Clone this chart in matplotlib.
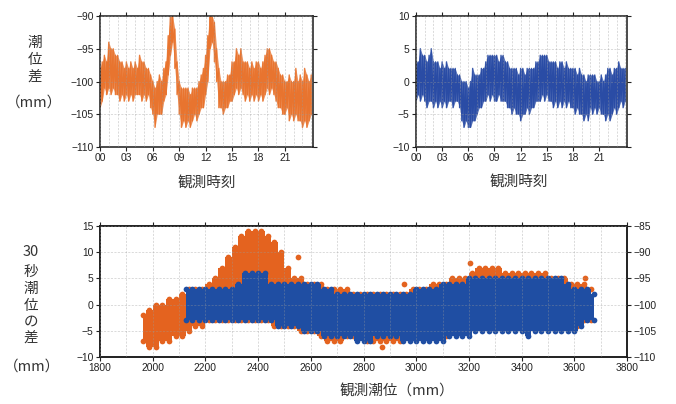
import numpy as np
import matplotlib.pyplot as plt
from matplotlib.ticker import MultipleLocator, FuncFormatter

plt.rcParams['font.family'] = ['Liberation Sans', 'DejaVu Sans']
plt.rcParams['axes.unicode_minus'] = True
JP = ['Noto Sans CJK JP', 'DejaVu Sans']

ORANGE = '#e4631f'
BLUE = '#1f4ea3'

# ---- top panels: 15-minute samples, upper / lower edge of the noisy trace (mm)
hours = np.arange(0, 24.01, 0.25)

tide_hi = [-98, -97, -96, -97, -94, -95, -95, -96, -96, -97, -97, -98,
           -97, -98, -97, -98, -97, -98, -96, -97, -97, -98, -98, -99,
           -100, -101, -100, -99, -100, -98, -97, -93, -90, -90, -92, -97,
           -100, -101, -101, -101, -101, -102, -101, -101, -101, -100, -99, -98,
           -96, -93, -90, -90, -91, -95, -98, -100, -100, -100, -99, -99,
           -97, -97, -95, -96, -95, -97, -97, -97, -98, -97, -98, -97,
           -97, -98, -97, -96, -95, -95, -96, -97, -97, -98, -99, -99,
           -100, -100, -99, -100, -100, -98, -100, -99, -100, -98, -99, -100,
           -99]
tide_lo = [-104, -103, -101, -102, -101, -102, -101, -102, -102, -103, -102, -103,
           -102, -103, -102, -103, -102, -102, -102, -103, -102, -103, -102, -104,
           -105, -107, -105, -105, -105, -103, -102, -99, -96, -94, -98, -102,
           -105, -107, -106, -107, -106, -107, -106, -105, -106, -105, -104, -104,
           -102, -100, -95, -94, -97, -100, -104, -104, -105, -104, -104, -103,
           -103, -102, -101, -102, -101, -102, -103, -102, -103, -102, -103, -102,
           -103, -102, -103, -102, -101, -102, -101, -102, -103, -104, -104, -105,
           -105, -104, -106, -105, -106, -105, -106, -106, -107, -106, -107, -106,
           -105]

diff_hi = [3, 3, 5, 4, 4, 3, 4, 5, 3, 3, 3, 2, 3, 2, 3, 2, 2, 2, 2, 1,
           1, 0, 0, 0, -1, 0, 2, 1, 1, 1, 2, 2, 3, 4, 4, 4, 4, 4, 3, 4,
           4, 3, 3, 2, 2, 2, 2, 1, 2, 2, 1, 2, 2, 2, 2, 3, 3, 4, 4, 4,
           4, 3, 3, 3, 3, 2, 3, 3, 2, 3, 2, 2, 2, 2, 1, 2, 1, 1, 0, 1,
           1, 1, 1, 0, 0, 1, 0, 1, 2, 2, 1, 2, 2, 3, 2, 2, 2]
diff_lo = [-3, -2, -3, -2, -3, -4, -3, -3, -4, -3, -4, -3, -4, -3, -4, -3,
           -3, -4, -3, -3, -4, -6, -7, -6, -7, -7, -6, -6, -5, -4, -4, -3,
           -3, -2, -3, -2, -3, -3, -2, -3, -3, -3, -4, -4, -5, -4, -5, -5,
           -6, -5, -5, -4, -5, -4, -4, -3, -3, -3, -2, -3, -2, -3, -3, -4,
           -3, -4, -3, -4, -3, -4, -3, -4, -4, -5, -4, -5, -5, -6, -5, -6,
           -4, -5, -4, -5, -4, -5, -5, -6, -5, -6, -5, -4, -5, -4, -3, -4,
           -3]

hour_ticks = [0, 3, 6, 9, 12, 15, 18, 21]

# ---- bottom panel: 25 mm columns of the scatter, top / bottom of each column
orange_x = np.arange(1962, 3663, 25)
orange_hi = [-102, -101, -100, -100, -99, -99, -98, -97, -97, -97,
             -96, -95, -93, -91, -89, -87, -86, -86, -86, -87,
             -88, -90, -93, -95, -95, -96, -96, -96, -97, -97,
             -97, -97, -98, -98, -98, -98, -98, -98, -98, -98,
             -98, -97, -97, -97, -96, -96, -96, -95, -95, -95,
             -94, -93, -93, -93, -93, -94, -94, -94, -94, -94,
             -94, -94, -95, -95, -95, -96, -96, -96, -97]
orange_lo = [-107, -108, -108, -107, -107, -106, -106, -105, -104, -104,
             -103, -103, -103, -103, -103, -103, -103, -103, -103, -103,
             -104, -104, -104, -104, -105, -105, -105, -106, -107, -107,
             -107, -106, -106, -106, -107, -107, -107, -107, -107, -107,
             -106, -106, -106, -106, -106, -106, -106, -105, -105, -105,
             -104, -104, -104, -104, -104, -104, -104, -104, -104, -104,
             -104, -104, -104, -104, -104, -104, -104, -103, -103]
orange_out_x = [2553, 2953, 3204, 3640, 2869]
orange_out_y = [-91, -96, -92, -95, -108]

blue_x = np.arange(2125, 3676, 25)
blue_hi = [3, 3, 3, 3, 3, 3, 3, 3, 4, 6,
           6, 6, 6, 4, 4, 4, 4, 4, 4, 4,
           4, 3, 3, 2, 2, 2, 2, 2, 2, 2,
           2, 2, 2, 2, 2, 3, 3, 3, 3, 4,
           4, 4, 4, 5, 5, 5, 5, 5, 5, 5,
           5, 5, 5, 5, 5, 5, 5, 5, 4, 3,
           3, 3, 2]
blue_lo = [-3, -3, -3, -3, -3, -3, -3, -3, -3, -3,
           -3, -3, -3, -3, -4, -4, -4, -4, -5, -5,
           -5, -6, -6, -6, -6, -6, -7, -7, -7, -6,
           -6, -6, -6, -7, -7, -7, -7, -7, -7, -7,
           -6, -6, -6, -6, -5, -5, -5, -5, -5, -5,
           -5, -5, -6, -5, -5, -5, -5, -5, -5, -5,
           -4, -3, -3]


def style(ax):
    for s in ax.spines.values():
        s.set_linewidth(1.1)
        s.set_color('#1a1a1a')
    ax.tick_params(which='major', direction='out', length=3, width=0.8, pad=1.5,
                   labelsize=7.4, colors='#222222', top=True, right=True)
    ax.tick_params(which='minor', length=0)
    ax.set_axisbelow(False)
    ax.grid(which='both', ls=(0, (3, 2)), lw=0.5, color='#9a9a9a', alpha=0.5)


def trace(ax, t, hi, lo, color):
    # solid body of the noisy record plus a zigzag for the ragged edges
    ax.fill_between(t, lo, hi, color=color, alpha=0.75, lw=0, zorder=1)
    x = np.repeat(t, 2)
    y = np.column_stack([hi, lo]).ravel()
    ax.plot(x, y, color=color, lw=1.0, alpha=0.9, zorder=1)


def cloud(ax, x, lo, hi, color):
    # dense point cloud: filled columns with dot edges
    ax.fill_between(x, lo, hi, step='mid', color=color, lw=0)
    ax.scatter(np.concatenate([x, x]), np.concatenate([hi, lo]), s=17,
               color=color, lw=0)


fig = plt.figure(figsize=(6.76, 4.04), dpi=100)
ax1 = fig.add_axes([100 / 676, 1 - 147 / 404, 213 / 676, 131 / 404])
ax2 = fig.add_axes([416 / 676, 1 - 147 / 404, 211 / 676, 131 / 404])
ax3 = fig.add_axes([100 / 676, 1 - 357 / 404, 527 / 676, 131 / 404])

hour_fmt = FuncFormatter(lambda v, p: '%02d' % v)
for ax, hi, lo, col, lim in [(ax1, tide_hi, tide_lo, '#e8712a', (-110, -90)),
                             (ax2, diff_hi, diff_lo, '#2548a3', (-10, 10))]:
    trace(ax, hours, hi, lo, col)
    ax.set_xlim(0, 24.2)
    ax.set_ylim(*lim)
    ax.set_xticks(hour_ticks)
    ax.xaxis.set_major_formatter(hour_fmt)
    ax.xaxis.set_minor_locator(MultipleLocator(1))
    ax.yaxis.set_major_locator(MultipleLocator(5))
    style(ax)

# bottom: blue on the left scale, orange on the right scale
ax3r = ax3.twinx()
ax3.set_zorder(ax3r.get_zorder() + 1)
ax3.patch.set_visible(False)

cloud(ax3r, orange_x, orange_lo, orange_hi, ORANGE)
ax3r.scatter(orange_out_x, orange_out_y, s=17, color=ORANGE, lw=0)
cloud(ax3, blue_x, blue_lo, blue_hi, BLUE)

ax3.set_xlim(1800, 3800)
ax3.set_ylim(-10, 15)
ax3r.set_ylim(-110, -85)
ax3.xaxis.set_major_locator(MultipleLocator(200))
ax3.xaxis.set_minor_locator(MultipleLocator(100))
ax3.yaxis.set_major_locator(MultipleLocator(5))
ax3r.yaxis.set_major_locator(MultipleLocator(5))
style(ax3)
ax3.tick_params(right=False)
ax3r.grid(False)
for s in ax3r.spines.values():
    s.set_linewidth(1.1)
    s.set_color('#1a1a1a')
ax3r.tick_params(direction='out', length=3, width=0.8, pad=1.5, labelsize=7.4,
                 colors='#222222')


def fx(px):
    return px / 676


def fy(py):
    return 1 - py / 404


def label(px, py, s):
    fig.text(fx(px), fy(py), s, family=JP, fontsize=10.5, ha='center',
             va='center', color='#333333')


for ch, py in zip('潮位差', [43, 60, 77]):
    label(35, py, ch)
label(34, 103, '（mm）')
label(207, 183, '観測時刻')
label(519, 182, '観測時刻')

label(31, 252, '30')
for ch, py in zip('秒潮位の差', [272, 289, 306, 322, 338]):
    label(31, py, ch)
label(32, 367, '（mm）')
label(397, 392, '観測潮位（mm）')

fig.savefig('out.png', dpi=100)
